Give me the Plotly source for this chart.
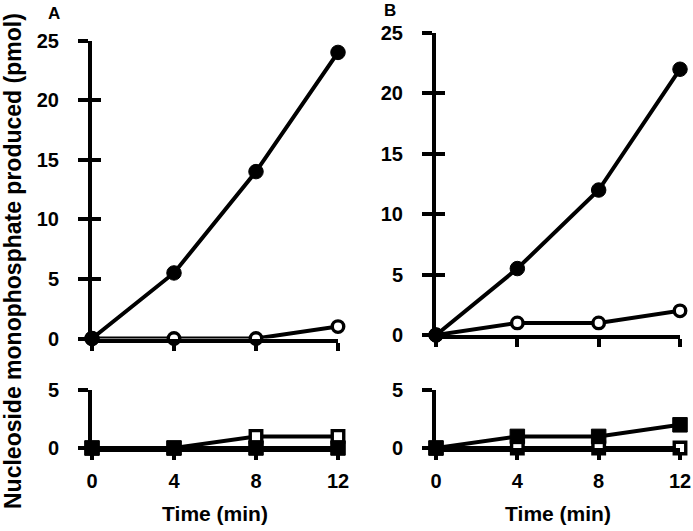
import plotly.graph_objects as go

# ---- data ----
time_min = [0, 4, 8, 12]
a_top_filled = [0, 5.5, 14, 24]
a_top_open = [0, 0, 0, 1]
a_bot_filled = [0, 0, 0, 0]
a_bot_open = [0, 0, 1, 1]
b_top_filled = [0, 5.5, 12, 22]
b_top_open = [0, 1, 1, 2]
b_bot_filled = [0, 1, 1, 2]
b_bot_open = [0, 0, 0, 0]
x_ticks = [0, 4, 8, 12]
y_top_ticks = [0, 5, 10, 15, 20, 25]
y_bot_ticks = [0, 5]

W, H = 693, 531
FONT = "Liberation Sans"
LW = 4


def px(v):
    return v / W


def py(v):
    return 1 - v / H


def bold(vals):
    return ["<b>%g</b>" % v for v in vals]


fig = go.Figure()


def add_series(xa, ya, symbol, y_open, y_fill):
    fig.add_trace(go.Scatter(
        x=time_min, y=y_open, xaxis=xa, yaxis=ya, mode="lines+markers",
        line=dict(color="black", width=LW),
        marker=dict(symbol=symbol, size=11.5, color="white",
                    line=dict(color="black", width=3.4)),
        cliponaxis=False, showlegend=False))
    fig.add_trace(go.Scatter(
        x=time_min, y=y_fill, xaxis=xa, yaxis=ya, mode="lines+markers",
        line=dict(color="black", width=LW),
        marker=dict(symbol=symbol, size=14.5, color="black",
                    line=dict(color="black", width=1)),
        cliponaxis=False, showlegend=False))


add_series("x", "y", "circle", a_top_open, a_top_filled)
add_series("x2", "y2", "circle", b_top_open, b_top_filled)
add_series("x3", "y3", "square", a_bot_open, a_bot_filled)
add_series("x4", "y4", "square", b_bot_open, b_bot_filled)

# invisible traces on overlay axes (for crossing ticks)
for xa, ya in [("x", "y5"), ("x2", "y6"), ("x3", "y7"), ("x4", "y8")]:
    fig.add_trace(go.Scatter(x=[], y=[], xaxis=xa, yaxis=ya, showlegend=False))

tickfont = dict(family=FONT, size=20, color="black")

xdomA = [px(92), px(338)]
xdomB = [px(436), px(680)]
ydomAt = [py(338.5), py(40.5)]
ydomBt = [py(335), py(33)]
ydomBot = [py(448), py(390)]


def xaxis(domain, anchor, labels, title=None):
    d = dict(domain=domain, anchor=anchor, range=[0, 12],
             tickvals=x_ticks, ticktext=bold(x_ticks),
             showline=True, linewidth=LW, linecolor="black",
             ticks="outside", ticklen=8, tickwidth=LW, tickcolor="black",
             showgrid=False, zeroline=False, showticklabels=labels,
             tickfont=tickfont, ticklabelstandoff=4, fixedrange=True,
             automargin=False)
    if title:
        d["title"] = dict(text="<b>%s</b>" % title,
                          font=dict(family=FONT, size=21, color="black"),
                          standoff=16)
    return d


def yaxis(domain, anchor, rng, ticks):
    return dict(domain=domain, anchor=anchor, range=rng,
                tickvals=ticks, ticktext=bold(ticks),
                showline=True, linewidth=LW, linecolor="black",
                ticks="outside", ticklen=10, tickwidth=LW, tickcolor="black",
                showgrid=False, zeroline=False, tickfont=tickfont,
                ticklabelstandoff=15, fixedrange=True, automargin=False)


def yover(base, domain, anchor, rng, ticks):
    return dict(domain=domain, anchor=anchor, overlaying=base, range=rng, tickvals=ticks,
                showline=False, ticks="inside", ticklen=9, tickwidth=LW, tickcolor="black",
                showgrid=False, zeroline=False, showticklabels=False, fixedrange=True,
                automargin=False)


fig.update_layout(
    width=W, height=H, autosize=False,
    margin=dict(l=0, r=0, t=0, b=0, autoexpand=False),
    paper_bgcolor="white", plot_bgcolor="rgba(0,0,0,0)",
    font=dict(family=FONT, color="black"),
    xaxis=xaxis(xdomA, "y", False),
    xaxis2=xaxis(xdomB, "y2", False),
    xaxis3=xaxis(xdomA, "y3", True, "Time (min)"),
    xaxis4=xaxis(xdomB, "y4", True, "Time (min)"),
    yaxis=yaxis(ydomAt, "x", [0, 25], y_top_ticks),
    yaxis2=yaxis(ydomBt, "x2", [0, 25], y_top_ticks),
    yaxis3=yaxis(ydomBot, "x3", [0, 5], y_bot_ticks),
    yaxis4=yaxis(ydomBot, "x4", [0, 5], y_bot_ticks),
    yaxis5=yover("y", ydomAt, "x", [0, 25], y_top_ticks),
    yaxis6=yover("y2", ydomBt, "x2", [0, 25], y_top_ticks),
    yaxis7=yover("y3", ydomBot, "x3", [0, 5], y_bot_ticks),
    yaxis8=yover("y4", ydomBot, "x4", [0, 5], y_bot_ticks),
    annotations=[
        dict(text="<b>Nucleoside monophosphate produced (pmol)</b>", textangle=-90,
             x=px(13), y=py(261), xref="paper", yref="paper",
             xanchor="center", yanchor="middle", showarrow=False,
             font=dict(family=FONT, size=23, color="black")),
        dict(text="<b>A</b>", x=px(54), y=py(13), xref="paper", yref="paper",
             xanchor="center", yanchor="middle", showarrow=False,
             font=dict(family=FONT, size=17, color="black")),
        dict(text="<b>B</b>", x=px(390), y=py(11), xref="paper", yref="paper",
             xanchor="center", yanchor="middle", showarrow=False,
             font=dict(family=FONT, size=17, color="black")),
    ],
)

fig.write_html("out.html",
               config={"displayModeBar": False, "staticPlot": True},
               post_script="document.body.style.margin='0';")
